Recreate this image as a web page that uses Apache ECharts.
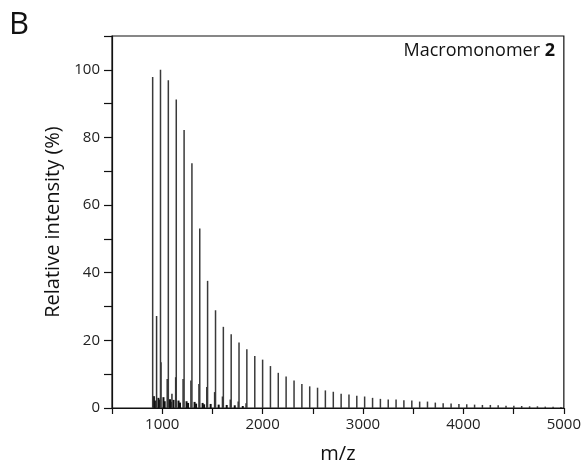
<!DOCTYPE html>
<html>
<head>
<meta charset="utf-8">
<script src="https://cdn.jsdelivr.net/npm/echarts@6/dist/echarts.min.js"></script>
<style>
html,body{margin:0;padding:0;background:#fff;}
#chart{width:584px;height:469px;}
</style>
</head>
<body>
<div id="chart"></div>
<script>
// Main oligomer series (m/z positions and relative intensities)
var mainMz = [905, 983, 1061, 1140, 1218, 1296, 1374, 1452, 1531, 1609, 1687, 1765, 1843, 1922, 2000, 2078, 2156, 2234, 2313, 2391, 2469, 2547, 2625, 2704, 2782, 2860, 2938, 3016, 3095, 3173, 3251, 3329, 3407, 3486, 3564, 3642, 3720, 3798, 3877, 3955, 4033, 4111, 4189, 4268, 4346, 4424, 4502, 4580, 4659, 4737, 4815, 4893, 4971];
var mainInt = [97.9, 100, 96.9, 91.2, 82.2, 72.4, 53.1, 37.6, 28.9, 24.0, 21.8, 19.4, 17.4, 15.4, 14.3, 12.4, 10.4, 9.3, 8.1, 7.1, 6.4, 6.0, 5.2, 4.8, 4.2, 4.0, 3.6, 3.4, 3.0, 2.7, 2.5, 2.5, 2.3, 2.2, 1.9, 1.9, 1.6, 1.4, 1.3, 1.2, 1.1, 1.0, 0.9, 0.9, 0.8, 0.7, 0.7, 0.6, 0.5, 0.5, 0.4, 0.4, 0.3];
// Minor (side) peaks
var sideMz = [944, 988, 1050, 1097, 1134, 1208, 1286, 1366, 1444, 1522, 1600, 1678, 1757, 1835];
var sideInt = [27.2, 13.5, 8.6, 4.2, 9.1, 8.6, 8.1, 7.1, 6.2, 4.7, 3.4, 2.5, 1.9, 1.4];
// Low-level baseline clutter
var noiseMz = [915, 925, 960, 970, 1010, 1022, 1075, 1085, 1110, 1160, 1175, 1240, 1255, 1320, 1335, 1400, 1415, 1480, 1560, 1640, 1720, 1800];
var noiseInt = [3.5, 2.2, 3.0, 2.5, 3.2, 2.0, 2.6, 1.8, 2.4, 2.2, 1.6, 2.0, 1.5, 1.8, 1.3, 1.5, 1.1, 1.2, 1.0, 0.9, 0.8, 0.6];

var xTicks = {min: 500, max: 5000, interval: 500};
var yTicks = {min: 0, max: 110, interval: 10};

function pairs(xs, ys){ return xs.map(function(x,i){ return [x, ys[i]]; }); }

var chart = echarts.init(document.getElementById('chart'), null, {renderer: 'canvas'});
var fontFam = '"Open Sans", "Noto Sans", sans-serif';
chart.setOption({
  animation: false,
  backgroundColor: '#fff',
  grid: {left: 112, right: 20, top: 36, bottom: 58, show: true, borderColor: '#111', borderWidth: 1.2, backgroundColor: 'transparent'},
  graphic: [
    {type: 'text', left: 9, top: 10, style: {text: 'B', font: '31px ' + fontFam, fill: '#111'}},
    {type: 'text', right: 29, top: 42, style: {
      text: '{n|Macromonomer }{b|2}',
      rich: {
        n: {font: '18px ' + fontFam, fill: '#111'},
        b: {font: 'bold 18px ' + fontFam, fill: '#111'}
      }
    }}
  ],
  xAxis: {
    type: 'value', min: xTicks.min, max: xTicks.max, interval: xTicks.interval,
    name: 'm/z', nameLocation: 'middle', nameGap: 36,
    nameTextStyle: {fontFamily: fontFam, fontSize: 20, color: '#111'},
    axisLine: {show: true, onZero: false, lineStyle: {color: '#111', width: 1.2}},
    axisTick: {show: true, inside: false, length: 6, lineStyle: {color: '#111', width: 1.2}},
    axisLabel: {fontFamily: fontFam, fontSize: 15, color: '#222', margin: 9,
      formatter: function(v){ return v % 1000 === 0 ? String(v) : ''; }},
    splitLine: {show: false}
  },
  yAxis: {
    type: 'value', min: yTicks.min, max: yTicks.max, interval: yTicks.interval,
    name: 'Relative intensity (%)', nameLocation: 'middle', nameGap: 48, nameRotate: 90,
    nameTextStyle: {fontFamily: fontFam, fontSize: 20, color: '#111'},
    axisLine: {show: true, lineStyle: {color: '#111', width: 1.2}},
    axisTick: {show: true, inside: false, length: 8, lineStyle: {color: '#111', width: 1.2}},
    axisLabel: {fontFamily: fontFam, fontSize: 15, color: '#222', margin: 12,
      formatter: function(v){ return (v % 20 === 0 && v <= 100) ? String(v) : ''; }},
    splitLine: {show: false}
  },
  series: [
    {type: 'bar', data: pairs(noiseMz, noiseInt), barWidth: 2, itemStyle: {color: '#111'}, barGap: '-100%', z: 2},
    {type: 'bar', data: pairs(sideMz, sideInt), barWidth: 1.5, itemStyle: {color: '#333'}, barGap: '-100%', z: 3},
    {type: 'bar', data: pairs(mainMz, mainInt), barWidth: 1.5, itemStyle: {color: '#3a3a3a'}, barGap: '-100%', z: 4}
  ]
});
</script>
</body>
</html>
